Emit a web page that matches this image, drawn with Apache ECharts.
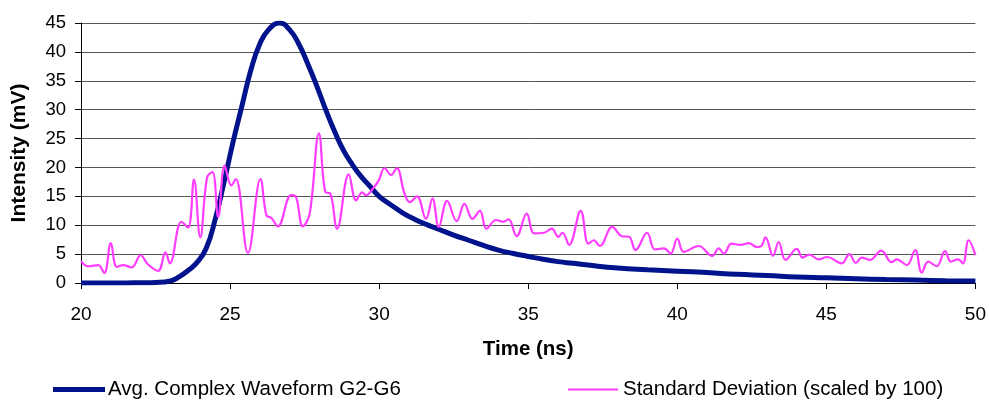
<!DOCTYPE html>
<html>
<head>
<meta charset="utf-8">
<script src="https://cdn.jsdelivr.net/npm/echarts@6/dist/echarts.min.js"></script>
<style>html,body{margin:0;padding:0;background:#fff}#c{width:989px;height:402px}</style>
</head>
<body>
<div id="c"></div>
<script>
var xTicks = [20, 25, 30, 35, 40, 45, 50];
var yTicks = [0, 5, 10, 15, 20, 25, 30, 35, 40, 45];

var avgName = 'Avg. Complex Waveform G2-G6';
var avgTime = [20, 20.5, 21, 21.5, 22, 22.5, 23, 23.3, 23.6, 23.9, 24.2, 24.5, 24.8, 25.1, 25.4, 25.7, 26.0, 26.3, 26.66, 27.0, 27.3, 27.6, 27.9, 28.2, 28.5, 28.8, 29.1, 29.4, 29.7, 30.0, 30.4, 30.8, 31.2, 31.6, 32.0, 32.5, 33.0, 33.5, 34.0, 34.5, 35.0, 35.5, 36.0, 36.5, 37.0, 38.0, 39.0, 40.0, 41.0, 42.0, 43.0, 44.0, 45.0, 46.0, 47.0, 48.0, 49.0, 50.0];
var avgValue = [0, 0, 0, 0, 0.05, 0.1, 0.35, 1.1, 2.2, 3.6, 6.0, 11.0, 17.5, 24.4, 30.7, 36.9, 41.4, 43.9, 45.0, 43.8, 41.4, 38.0, 34.2, 30.1, 26.3, 23.0, 20.5, 18.4, 16.7, 15.0, 13.5, 12.1, 11.0, 10.1, 9.3, 8.3, 7.4, 6.5, 5.7, 5.1, 4.6, 4.1, 3.7, 3.4, 3.1, 2.6, 2.3, 2.05, 1.8, 1.5, 1.3, 1.05, 0.9, 0.75, 0.6, 0.5, 0.4, 0.35];

var stdName = 'Standard Deviation (scaled by 100)';
var stdTime = [20.0, 20.24, 20.58, 20.78, 21.0, 21.2, 21.42, 21.7, 22.0, 22.25, 22.59, 22.83, 22.98, 23.37, 23.59, 23.79, 24.0, 24.23, 24.41, 24.6, 24.82, 25.04, 25.19, 25.6, 26.02, 26.22, 26.38, 26.6, 27.05, 27.2, 27.44, 27.67, 27.98, 28.2, 28.36, 28.59, 28.98, 29.23, 29.43, 29.56, 29.79, 29.99, 30.18, 30.4, 30.59, 30.85, 31.03, 31.27, 31.57, 31.79, 32.0, 32.28, 32.6, 32.86, 33.13, 33.38, 33.6, 33.92, 34.14, 34.34, 34.61, 34.95, 35.2, 35.53, 35.79, 36.01, 36.15, 36.37, 36.76, 37.02, 37.2, 37.4, 37.82, 38.15, 38.38, 38.6, 38.99, 39.25, 39.55, 39.78, 40.0, 40.22, 40.72, 41.17, 41.39, 41.56, 41.82, 42.12, 42.4, 42.67, 42.82, 42.96, 43.21, 43.4, 43.63, 44.01, 44.2, 44.43, 44.74, 45.02, 45.52, 45.77, 45.99, 46.19, 46.47, 46.84, 47.19, 47.36, 47.7, 47.98, 48.2, 48.42, 48.7, 48.98, 49.18, 49.42, 49.58, 49.77, 50.0];
var stdValue = [3.8, 2.9, 3.1, 1.7, 6.9, 2.8, 3.1, 2.7, 4.8, 3.2, 2.1, 5.3, 3.4, 10.6, 9.6, 17.9, 7.9, 18.3, 19.2, 11.4, 20.3, 16.9, 18.0, 5.2, 18.0, 11.7, 11.3, 9.8, 15.2, 15.0, 9.8, 12.0, 25.9, 15.7, 15.5, 9.4, 18.8, 14.3, 15.7, 15.2, 16.3, 17.8, 19.9, 18.7, 19.9, 15.5, 14.0, 15.0, 11.1, 14.6, 9.7, 14.2, 10.7, 13.7, 11.1, 12.5, 9.4, 10.9, 10.6, 11.0, 8.1, 12.0, 8.6, 8.7, 9.4, 8.0, 8.7, 6.6, 12.5, 6.8, 7.4, 6.4, 9.7, 8.1, 8.0, 5.7, 8.7, 5.8, 6.0, 5.1, 7.7, 5.4, 6.4, 4.7, 6.0, 5.1, 6.8, 6.6, 6.9, 6.2, 6.4, 7.9, 4.7, 7.1, 4.0, 5.9, 4.4, 4.9, 4.1, 4.5, 3.4, 5.0, 3.5, 4.4, 4.0, 5.6, 3.6, 4.1, 3.1, 5.7, 1.8, 3.7, 2.9, 5.5, 3.7, 4.1, 3.4, 7.4, 4.8];

function pairs(xs, ys) { return xs.map(function (x, i) { return [x, ys[i]]; }); }

var FONT = '"Liberation Sans", Arial, sans-serif';
var chart = echarts.init(document.getElementById('c'), null, { renderer: 'canvas' });
chart.setOption({
  animation: false,
  backgroundColor: '#ffffff',
  textStyle: { fontFamily: FONT },
  grid: { left: 81, right: 12, top: 23, bottom: 119, containLabel: false },
  legend: [
    { data: [avgName], left: 53, top: 379, padding: 0, icon: 'rect', itemWidth: 52, itemHeight: 5, itemGap: 0,
      textStyle: { fontFamily: FONT, fontSize: 20.5, color: '#000', padding: [0, 0, 0, -2] } },
    { data: [stdName], left: 568, top: 379, padding: 0, icon: 'rect', itemWidth: 50, itemHeight: 2, itemGap: 0,
      textStyle: { fontFamily: FONT, fontSize: 20.5, color: '#000' } }
  ],
  xAxis: {
    type: 'value', min: xTicks[0], max: xTicks[xTicks.length - 1], interval: 5,
    name: 'Time (ns)', nameLocation: 'middle', nameGap: 56,
    nameTextStyle: { fontFamily: FONT, fontWeight: 'bold', fontSize: 20.5, color: '#000' },
    axisLine: { onZero: false, lineStyle: { color: '#000', width: 1 } },
    axisTick: { show: true, inside: false, length: 6, lineStyle: { color: '#000' } },
    axisLabel: { margin: 22, fontFamily: FONT, fontSize: 19, color: '#000' },
    splitLine: { show: false }
  },
  yAxis: {
    type: 'value', min: yTicks[0], max: yTicks[yTicks.length - 1], interval: 5,
    name: 'Intensity (mV)', nameLocation: 'middle', nameGap: 51,
    nameTextStyle: { fontFamily: FONT, fontWeight: 'bold', fontSize: 21, color: '#000' },
    axisLine: { show: true, lineStyle: { color: '#000', width: 1 } },
    axisTick: { show: true, inside: false, length: 6, lineStyle: { color: '#000' } },
    axisLabel: { margin: 15, fontFamily: FONT, fontSize: 18.5, color: '#000' },
    splitLine: { show: true, lineStyle: { color: '#555', width: 1 } }
  },
  series: [
    { name: avgName, type: 'line', data: pairs(avgTime, avgValue), smooth: 0.5, showSymbol: false, symbol: 'none',
      lineStyle: { color: '#00138c', width: 5 }, itemStyle: { color: '#00138c' }, z: 2 },
    { name: stdName, type: 'line', data: pairs(stdTime, stdValue), smooth: 0.4, showSymbol: false, symbol: 'none',
      lineStyle: { color: '#ff3cff', width: 2.2 }, itemStyle: { color: '#ff3cff' }, z: 3 }
  ]
});
</script>
</body>
</html>
